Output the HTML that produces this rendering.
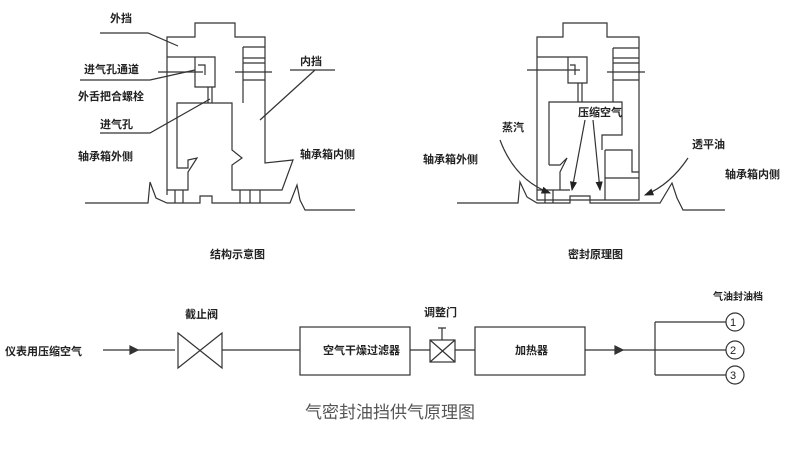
<!DOCTYPE html>
<html><head><meta charset="utf-8"><style>
body{margin:0;background:#fff}
svg{display:block}
text{font-family:"Liberation Sans","Noto Sans CJK SC",sans-serif;font-size:11px;fill:#222;font-weight:bold}
</style></head><body>
<svg width="790" height="467" viewBox="0 0 790 467" xmlns="http://www.w3.org/2000/svg">
<defs><marker id="a" markerWidth="8" markerHeight="6" refX="7" refY="3" orient="auto"><path d="M0,0 L8,3 L0,6z" fill="#222"/></marker></defs>
<g fill="none" stroke="#333" stroke-width="1.2">
<!-- left diagram -->
<path d="M85,203 L148,203 L150,182 L156,198 L167,203 L200,203 L200,196 L212,196 L212,203 L290,203 L297,185 L300,200 L305,210 L355,210"/>
<path d="M167,195 L167,37 L195,37 L195,23 L235,23 L235,37 L265,37 L265,163 L293,160 L282,190 L232,190 L232,165 L242,158 L232,150 L232,103 L177,103 L177,168 L188,168 L188,160 L197,158 L188,172 L188,190 L167,190"/>
<path d="M243,47 L265,47 M243,47 L243,103 M243,58 L265,58 M243,63 L265,63 M243,80 L265,80 M235,72 L272,72"/>
<path d="M167,57 L195,57 M195,57 L215,57 L215,87 L195,87 Z M198,65 L205,65 L205,75 M158,72 L203,72 M208,87 L208,103 M212,87 L212,103"/>
<path d="M175,190 L175,203 M183,190 L183,203 M240,190 L240,203 M250,190 L250,203 M260,190 L260,203"/>
<path d="M100,33 L148,33 L178,46 M80,80 L150,80 L195,70 M100,133 L150,133 L210,99 M290,70 L335,70 M315,70 L260,120"/>
<!-- right diagram -->
<path d="M457,203 L518,203 L520,182 L527,197 L537,203 L570,203 L570,196 L590,196 L590,203 L660,203 L672,183 L677,198 L683,210 L725,210"/>
<path d="M537,200 L537,37 L563,37 L563,23 L607,23 L607,37 L639,37 L639,200 Z M549,165 L549,102 L622,102 L622,135 L602,135 L602,150"/>
<path d="M549,165 L560,165 L567,158 L560,172 L560,190 M605,150 L632,150 L632,172 L639,172 M605,150 L605,200 M605,178 L639,178"/>
<path d="M613,48 L639,48 M613,48 L613,102 M613,58 L639,58 M613,63 L639,63 M613,80 L639,80 M607,72 L645,72"/>
<path d="M537,57 L568,57 M568,57 L587,57 L587,83 L568,83 Z M570,65 L575,65 L575,75 M527,70 L580,70 M578,83 L578,102 M582,83 L582,102"/>
<path d="M545,190 L545,203 M553,190 L553,203 M537,190 L570,190"/>
<path d="M500,140 Q515,180 550,193" marker-end="url(#a)"/>
<path d="M585,120 L572,190" marker-end="url(#a)"/>
<path d="M593,120 L600,190" marker-end="url(#a)"/>
<path d="M688,158 Q670,185 645,195" marker-end="url(#a)"/>
<!-- bottom -->
<path d="M103,350 L175,350 M222,350 L300,350 M410,350 L430,350 M455,350 L475,350 M585,350 L655,350"/>
<path d="M130,346 L138,350 L130,354Z" fill="#333"/>
<path d="M615,346 L623,350 L615,354Z" fill="#333"/>
<path d="M178,333 L222,368 L222,333 L178,368 Z"/>
<rect x="300" y="327" width="110" height="48"/>
<rect x="430" y="340" width="25" height="22"/>
<path d="M430,340 L455,362 M455,340 L430,362 M442,340 L442,328 M438,328 L446,328"/>
<rect x="475" y="327" width="110" height="48"/>
<path d="M655,322 L655,375 M655,322 L726,322 M655,375 L726,375 M655,350 L726,350"/>
<circle cx="735" cy="322" r="9"/><circle cx="735" cy="350" r="9"/><circle cx="735" cy="375" r="9"/>
</g>
<text x="110" y="22">外挡</text>
<text x="84" y="73">进气孔通道</text>
<text x="78" y="100">外舌把合螺栓</text>
<text x="100" y="128">进气孔</text>
<text x="78" y="160">轴承箱外侧</text>
<text x="300" y="65">内挡</text>
<text x="300" y="158">轴承箱内侧</text>
<text x="578" y="116">压缩空气</text>
<text x="502" y="131">蒸汽</text>
<text x="423" y="163">轴承箱外侧</text>
<text x="692" y="148">透平油</text>
<text x="725" y="178">轴承箱内侧</text>
<text x="210" y="258">结构示意图</text>
<text x="568" y="258">密封原理图</text>
<text x="5" y="355">仪表用压缩空气</text>
<text x="185" y="318">截止阀</text>
<text x="323" y="354">空气干燥过滤器</text>
<text x="424" y="316">调整门</text>
<text x="515" y="354">加热器</text>
<text x="713" y="300" style="font-size:10px">气油封油档</text>
<text x="730" y="326" style="font-size:11px;font-weight:normal">1</text>
<text x="730" y="354" style="font-size:11px;font-weight:normal">2</text>
<text x="730" y="379" style="font-size:11px;font-weight:normal">3</text>
<text x="305" y="418" style="font-size:17px;font-weight:normal;fill:#555">气密封油挡供气原理图</text>
</svg>
</body></html>
